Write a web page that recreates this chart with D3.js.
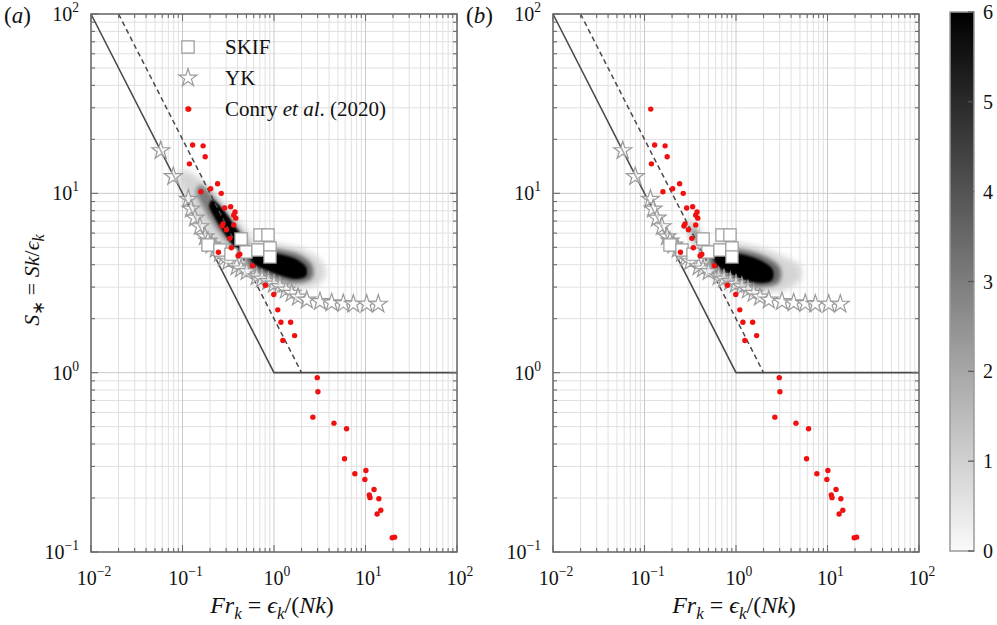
<!DOCTYPE html>
<html><head><meta charset="utf-8">
<script src="https://cdn.jsdelivr.net/npm/d3@7"></script>
<style>body{margin:0;background:#fff} text{font-family:"Liberation Serif","Times New Roman",serif;fill:#111}</style>
</head><body><svg id="c" width="997" height="625"></svg>
<script>
// ---------- data ----------
const xTickExps = [-2, -1, 0, 1, 2];
const yTickExps = [-1, 0, 1, 2];
const cbarTicks = [0, 1, 2, 3, 4, 5, 6];
const panelLabels = ["(a)", "(b)"];
const legendLabels = ["SKIF", "YK", "Conry et al. (2020)"];

// Conry et al. (2020): Fr_k, S_*
const conryFr = [0.117,0.129,0.168,0.177,0.119,0.159,0.203,0.242,0.265,0.336,0.289,0.375,0.363,0.382,0.277,0.270,0.363,0.302,0.329,0.342,0.247,0.423,0.405,0.581,0.805,0.994,1.10,1.19,1.52,1.68,1.25,2.97,3.02,2.66,4.52,6.21,5.90,7.65,10.1,9.84,12.4,11.0,11.2,14.0,14.7,13.4,19.6,20.8];
const conryS  = [29.5,18.6,18.4,16.0,14.6,10.2,10.6,11.3,10.0,8.41,8.28,7.87,7.54,7.27,6.75,6.57,6.66,6.27,5.61,4.97,4.69,4.57,4.49,3.95,3.07,2.73,2.24,1.91,1.91,1.61,1.51,0.938,0.783,0.565,0.523,0.487,0.331,0.273,0.285,0.254,0.223,0.208,0.201,0.198,0.171,0.163,0.120,0.121];

// YK
const ykFr = [0.0578,0.0793,0.116,0.124,0.137,0.155,0.176,0.190,0.208,0.232,0.257,0.284,0.317,0.391,0.436,0.503,0.647,0.739,0.867,1.00,1.16,1.35,1.56,1.83,2.28,3.18,4.27,5.72,7.36,10.3,13.8];
const ykS  = [17.3,12.4,9.27,8.18,7.28,6.52,5.73,5.42,5.15,4.89,4.63,4.36,4.16,3.90,3.79,3.66,3.43,3.33,3.22,3.12,3.02,2.89,2.77,2.64,2.54,2.49,2.45,2.43,2.41,2.41,2.41];

// SKIF
const skifFr = [0.190,0.257,0.339,0.436,0.494,0.668,0.703,0.859,0.904,0.904];
const skifS  = [5.15,4.83,4.58,5.56,4.71,4.83,5.85,5.85,4.96,4.42];

// model lines
const solidFr = [0.01, 1, 100], solidS = [100, 1, 1];
const dashFr = [0.02, 2], dashS = [100, 1];

// density cloud contours (log10 Fr_k, log10 S_*), with colour level
const cloudA = [
  {level: 0.9, pts: [[-1.005,1.130],[-0.863,1.102],[-0.678,1.018],[-0.459,0.896],[-0.262,0.767],[-0.175,0.684],[-0.262,0.639],[-0.393,0.639],[-0.568,0.695],[-0.754,0.784],[-0.896,0.879],[-0.984,0.991],[-1.049,1.074]]},
  {level: 0.9, pts: [[-0.328,0.684],[-0.131,0.723],[0.120,0.712],[0.339,0.684],[0.525,0.617],[0.568,0.544],[0.448,0.483],[0.230,0.472],[-0.022,0.494],[-0.240,0.544],[-0.350,0.617]]},
  {level: 3, pts: [[-0.809,1.046],[-0.678,0.991],[-0.503,0.879],[-0.317,0.751],[-0.284,0.684],[-0.372,0.673],[-0.525,0.740],[-0.678,0.840],[-0.787,0.935],[-0.852,1.007]]},
  {level: 3.5, pts: [[-0.306,0.661],[-0.131,0.695],[0.087,0.684],[0.284,0.656],[0.415,0.600],[0.415,0.528],[0.262,0.500],[0.066,0.516],[-0.131,0.550],[-0.284,0.595]]},
  {level: 6, pts: [[-0.678,0.963],[-0.590,0.929],[-0.459,0.840],[-0.328,0.728],[-0.350,0.684],[-0.437,0.706],[-0.568,0.795],[-0.667,0.879],[-0.710,0.929]]},
  {level: 6, pts: [[-0.262,0.650],[-0.131,0.673],[0.066,0.661],[0.240,0.634],[0.350,0.589],[0.350,0.539],[0.240,0.522],[0.087,0.539],[-0.087,0.572],[-0.219,0.606]]}
];
const cloudB = [
  {level: 1.2, pts: [[-0.525,0.851],[-0.437,0.823],[-0.350,0.740],[-0.372,0.684],[-0.448,0.706],[-0.525,0.784]]},
  {level: 0.9, pts: [[-0.328,0.684],[-0.087,0.723],[0.208,0.706],[0.481,0.656],[0.699,0.595],[0.710,0.522],[0.536,0.461],[0.262,0.450],[-0.011,0.472],[-0.230,0.516],[-0.350,0.600]]},
  {level: 2.5, pts: [[-0.481,0.807],[-0.415,0.779],[-0.383,0.728],[-0.437,0.734]]},
  {level: 3.5, pts: [[-0.284,0.667],[-0.109,0.695],[0.131,0.678],[0.350,0.639],[0.481,0.583],[0.470,0.505],[0.284,0.477],[0.044,0.494],[-0.153,0.533],[-0.273,0.589]]},
  {level: 6, pts: [[-0.240,0.656],[-0.109,0.673],[0.098,0.656],[0.284,0.622],[0.404,0.572],[0.393,0.516],[0.262,0.500],[0.066,0.522],[-0.109,0.561],[-0.219,0.606]]}
];

// ---------- drawing ----------
const svg = d3.select("#c");
const plotTop = 14, plotBottom = 552;
const panels = [{left: 91, right: 457, cloud: cloudA, label: panelLabels[0], legend: true},
                {left: 553, right: 919, cloud: cloudB, label: panelLabels[1], legend: false}];
const grey = d3.scaleLinear().domain([0, 6]).range(["#fafafa", "#000000"]);
const defs = svg.append("defs");
[["b3",3],["b2",2],["b1",1.1]].forEach(([id,s])=>{
  defs.append("filter").attr("id",id).attr("x","-50%").attr("y","-50%").attr("width","200%").attr("height","200%")
    .append("feGaussianBlur").attr("stdDeviation", s);
});

function supText(sel, exp, size) {
  sel.append("tspan").text("10");
  sel.append("tspan").attr("dy", -size*0.45).attr("font-size", size*0.68).text(exp < 0 ? "\u2212" + (-exp) : String(exp));
}

const starSym = d3.symbol().type(d3.symbolStar).size(100);
const sqSym = d3.symbol().type(d3.symbolSquare).size(150);

panels.forEach((p, pi) => {
  const x = d3.scaleLog().domain([1e-2, 1e2]).range([p.left, p.right]);
  const y = d3.scaleLog().domain([1e-1, 1e2]).range([plotBottom, plotTop]);
  const g = svg.append("g");
  const clipId = "clip" + pi;
  defs.append("clipPath").attr("id", clipId).append("rect")
    .attr("x", p.left).attr("y", plotTop).attr("width", p.right - p.left).attr("height", plotBottom - plotTop);

  // grid
  const minorX = [], majorX = [], minorY = [], majorY = [];
  for (let e = -2; e <= 1; e++) for (let m = 2; m <= 9; m++) minorX.push(m * Math.pow(10, e));
  for (let e = -1; e <= 1; e++) for (let m = 2; m <= 9; m++) minorY.push(m * Math.pow(10, e));
  xTickExps.forEach(e => majorX.push(Math.pow(10, e)));
  yTickExps.forEach(e => majorY.push(Math.pow(10, e)));
  const grid = g.append("g");
  grid.selectAll(".mx").data(minorX).join("line").attr("x1", d => x(d)).attr("x2", d => x(d)).attr("y1", plotTop).attr("y2", plotBottom).attr("stroke", "#e0e0e0");
  grid.selectAll(".my").data(minorY).join("line").attr("y1", d => y(d)).attr("y2", d => y(d)).attr("x1", p.left).attr("x2", p.right).attr("stroke", "#e0e0e0");
  grid.selectAll(".Mx").data(majorX).join("line").attr("x1", d => x(d)).attr("x2", d => x(d)).attr("y1", plotTop).attr("y2", plotBottom).attr("stroke", "#cacaca");
  grid.selectAll(".My").data(majorY).join("line").attr("y1", d => y(d)).attr("y2", d => y(d)).attr("x1", p.left).attr("x2", p.right).attr("stroke", "#cacaca");

  // cloud
  const cg = g.append("g").attr("clip-path", `url(#${clipId})`);
  const area = d3.line().x(d => x(Math.pow(10, d[0]))).y(d => y(Math.pow(10, d[1]))).curve(d3.curveCatmullRomClosed.alpha(0.5));
  p.cloud.forEach(c => {
    cg.append("path").attr("d", area(c.pts)).attr("fill", grey(c.level))
      .attr("filter", c.level < 2 ? "url(#b3)" : (c.level < 5 ? "url(#b2)" : "url(#b1)"));
  });

  // model lines
  const ln = d3.line().x(d => x(d[0])).y(d => y(d[1]));
  g.append("path").attr("d", ln(solidFr.map((f, i) => [f, solidS[i]]))).attr("fill", "none").attr("stroke", "#4a4a4a").attr("stroke-width", 1.6);
  g.append("path").attr("d", ln(dashFr.map((f, i) => [f, dashS[i]]))).attr("fill", "none").attr("stroke", "#4a4a4a").attr("stroke-width", 1.5).attr("stroke-dasharray", "5,3.5");

  // markers
  const mg = g.append("g").attr("clip-path", `url(#${clipId})`);
  mg.selectAll(".yk").data(ykFr.map((f, i) => [f, ykS[i]])).join("path")
    .attr("d", starSym).attr("transform", d => `translate(${x(d[0])},${y(d[1])})`)
    .attr("fill", "rgba(255,255,255,0.55)").attr("stroke", "#9a9a9a").attr("stroke-width", 1.2);
  mg.selectAll(".sk").data(skifFr.map((f, i) => [f, skifS[i]])).join("path")
    .attr("d", sqSym).attr("transform", d => `translate(${x(d[0])},${y(d[1])})`)
    .attr("fill", "#fff").attr("stroke", "#9a9a9a").attr("stroke-width", 1.2);
  mg.selectAll(".cr").data(conryFr.map((f, i) => [f, conryS[i]])).join("circle")
    .attr("cx", d => x(d[0])).attr("cy", d => y(d[1])).attr("r", 2.7).attr("fill", "#f01010");

  // frame + ticks (inward on all sides)
  const ax = g.append("g").attr("stroke", "#6a6a6a");
  ax.append("rect").attr("x", p.left).attr("y", plotTop).attr("width", p.right - p.left).attr("height", plotBottom - plotTop).attr("fill", "none").attr("stroke-width", 1.5);
  const tick = (arr, len) => {
    arr.forEach(v => {
      ax.append("line").attr("x1", x(v)).attr("x2", x(v)).attr("y1", plotBottom).attr("y2", plotBottom - len).attr("stroke-width", 1.1);
      ax.append("line").attr("x1", x(v)).attr("x2", x(v)).attr("y1", plotTop).attr("y2", plotTop + len).attr("stroke-width", 1.1);
    });
  };
  const tickY = (arr, len) => {
    arr.forEach(v => {
      ax.append("line").attr("y1", y(v)).attr("y2", y(v)).attr("x1", p.left).attr("x2", p.left + len).attr("stroke-width", 1.1);
      ax.append("line").attr("y1", y(v)).attr("y2", y(v)).attr("x1", p.right).attr("x2", p.right - len).attr("stroke-width", 1.1);
    });
  };
  tick(minorX, 4); tick(majorX, 7); tickY(minorY, 4); tickY(majorY, 7);

  // tick labels
  xTickExps.forEach(e => {
    const t = svg.append("text").attr("x", x(Math.pow(10, e)) + 3).attr("y", 585).attr("text-anchor", "middle").attr("font-size", 20);
    supText(t, e, 20);
  });
  yTickExps.forEach(e => {
    const t = svg.append("text").attr("x", p.left - 12).attr("y", y(Math.pow(10, e)) + 7).attr("text-anchor", "end").attr("font-size", 20);
    supText(t, e, 20);
  });

  // panel label
  const pl = svg.append("text").attr("x", p.left - 87).attr("y", 23).attr("font-size", 23);
  pl.append("tspan").text("(");
  pl.append("tspan").attr("font-style", "italic").text(p.label.slice(1, 2));
  pl.append("tspan").text(")");

  // x title
  const xt = svg.append("text").attr("x", (p.left + p.right) / 2 - 2).attr("y", 613).attr("text-anchor", "middle").attr("font-size", 24);
  xt.append("tspan").attr("font-style", "italic").text("Fr");
  xt.append("tspan").attr("font-style", "italic").attr("font-size", 17).attr("dy", 6).text("k");
  xt.append("tspan").attr("dy", -6).text(" = ");
  xt.append("tspan").attr("font-style", "italic").text("\u03F5");
  xt.append("tspan").attr("font-style", "italic").attr("font-size", 17).attr("dy", 6).text("k");
  xt.append("tspan").attr("dy", -6).text("/(");
  xt.append("tspan").attr("font-style", "italic").text("Nk");
  xt.append("tspan").text(")");

  // legend
  if (p.legend) {
    const lx = 188, ly = [47, 78, 109];
    svg.append("path").attr("d", sqSym).attr("transform", `translate(${lx},${ly[0]})`).attr("fill", "#fff").attr("stroke", "#9a9a9a").attr("stroke-width", 1.2);
    svg.append("path").attr("d", starSym).attr("transform", `translate(${lx},${ly[1]})`).attr("fill", "#fff").attr("stroke", "#9a9a9a").attr("stroke-width", 1.2);
    svg.append("circle").attr("cx", lx).attr("cy", ly[2]).attr("r", 2.7).attr("fill", "#f01010");
    svg.append("text").attr("x", 225).attr("y", ly[0] + 7).attr("font-size", 21).text(legendLabels[0]);
    svg.append("text").attr("x", 225).attr("y", ly[1] + 7).attr("font-size", 21).text(legendLabels[1]);
    const t3 = svg.append("text").attr("x", 225).attr("y", ly[2] + 7).attr("font-size", 21);
    t3.append("tspan").text("Conry ");
    t3.append("tspan").attr("font-style", "italic").text("et al");
    t3.append("tspan").text(". (2020)");
  }
});

// y title (left panel only)
const yt = svg.append("text").attr("transform", "translate(39,280) rotate(-90)").attr("text-anchor", "middle").attr("font-size", 22);
yt.append("tspan").attr("font-style", "italic").text("S");
yt.append("tspan").attr("font-size", 17).attr("dy", 5).text("\u2217");
yt.append("tspan").attr("dy", -5).text(" = ");
yt.append("tspan").attr("font-style", "italic").text("Sk");
yt.append("tspan").text("/");
yt.append("tspan").attr("font-style", "italic").text("\u03F5");
yt.append("tspan").attr("font-style", "italic").attr("font-size", 16).attr("dy", 5).text("k");

// colorbar
const cbX = 950, cbW = 24;
const cy = d3.scaleLinear().domain([0, 6]).range([551, 12]);
const grad = defs.append("linearGradient").attr("id", "cbg").attr("x1", 0).attr("y1", 1).attr("x2", 0).attr("y2", 0);
cbarTicks.forEach(v => grad.append("stop").attr("offset", v / 6).attr("stop-color", grey(v)));
svg.append("rect").attr("x", cbX).attr("y", cy(6)).attr("width", cbW).attr("height", cy(0) - cy(6)).attr("fill", "url(#cbg)").attr("stroke", "#9a9a9a").attr("stroke-width", 1.5);
cbarTicks.forEach(v => {
  svg.append("line").attr("x1", cbX + cbW - 6).attr("x2", cbX + cbW).attr("y1", cy(v)).attr("y2", cy(v)).attr("stroke", "#555").attr("stroke-width", 1.2);
  svg.append("text").attr("x", 983).attr("y", cy(v) + 7).attr("font-size", 20).text(v);
});
</script></body></html>
